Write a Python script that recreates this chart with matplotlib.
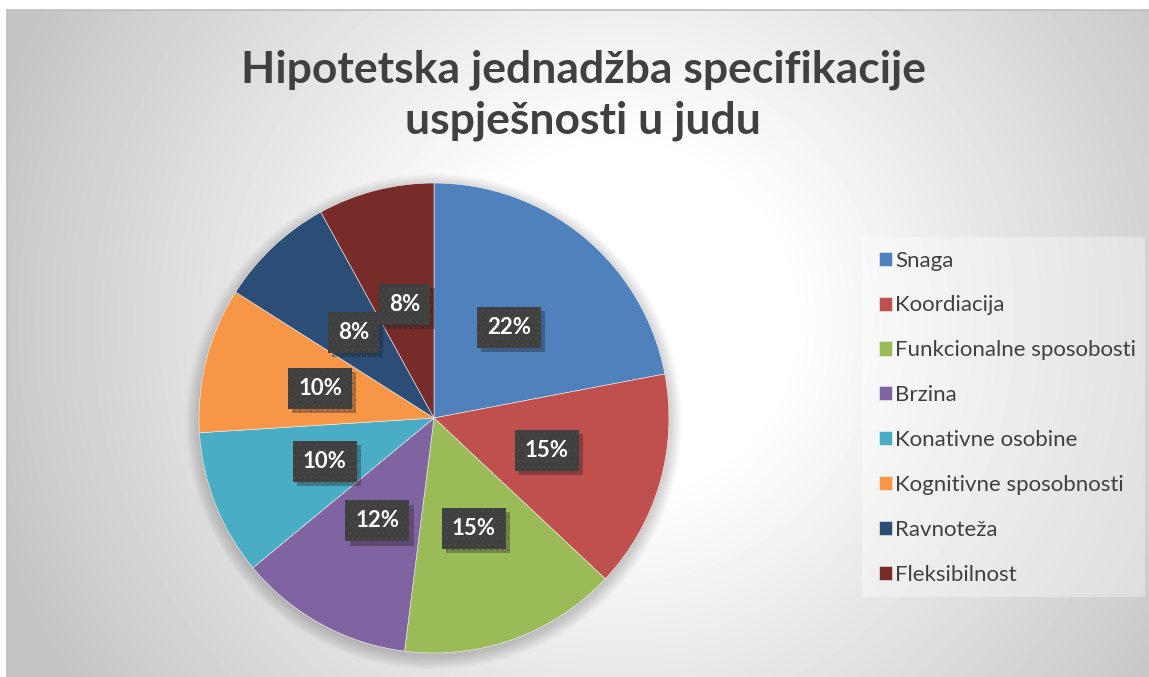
import numpy as np
import matplotlib
matplotlib.use('Agg')
import matplotlib.pyplot as plt
import matplotlib.patheffects as pe
from matplotlib.patches import Circle, Rectangle

#data
categories = ['Snaga', 'Koordiacija', 'Funkcionalne sposobosti', 'Brzina',
              'Konativne osobine', 'Kognitivne sposobnosti', 'Ravnoteža', 'Fleksibilnost']
values = [22, 15, 15, 12, 10, 10, 8, 8]
colors = ['#4F81BD', '#C0504D', '#9BBB59', '#8064A2',
          '#4BACC6', '#F79646', '#2C4D75', '#772C2A']
title = 'Hipotetska jednadžba specifikacije\nuspješnosti u judu'

W, H = 1149, 677
plt.rcParams['font.family'] = ['Lato', 'DejaVu Sans']
plt.rcParams['hatch.linewidth'] = 0.3
fig = plt.figure(figsize=(W / 100, H / 100), dpi=100)
fig.patch.set_facecolor('white')

#radial gradient background of the chart area
x0, y0 = 7, 10
bg = fig.add_axes([x0 / W, 0, 1 - x0 / W, (H - y0) / H])
yy, xx = np.mgrid[y0:H, x0:W]
d = np.hypot(xx - 620, yy - 320)
shade = 1 - 0.23 * np.clip((d - 170) / (660 - 170), 0, 1)
bg.imshow(shade, cmap='gray', vmin=0, vmax=1, aspect='auto', interpolation='bilinear')
bg.set_axis_off()
fig.add_artist(plt.Line2D([x0 / W, x0 / W], [0, (H - y0) / H], color='#bdbdbd', lw=1.2))
fig.add_artist(plt.Line2D([x0 / W, 1], [(H - y0) / H, (H - y0) / H], color='#bdbdbd', lw=1.2))

#pie axes
cx, cy, R = 434, 418, 235
ax = fig.add_axes([(cx - R) / W, (H - cy - R) / H, 2 * R / W, 2 * R / H])

#soft shadow under the pie
for i in range(10):
    ax.add_patch(Circle((0.0, -0.015), 1.0 + i * 0.006, color='black', alpha=0.018,
                        lw=0, zorder=0, clip_on=False))

wedges, texts, autotexts = ax.pie(values, colors=colors, startangle=90, counterclock=False,
                                  radius=1, autopct='%1.0f%%', pctdistance=0.5,
                                  wedgeprops=dict(linewidth=0.4, edgecolor='#f4f4f4'),
                                  textprops=dict(color='white', fontsize=16, fontweight='bold'))
ax.set_xlim(-1, 1)
ax.set_ylim(-1, 1)
ax.set_axis_off()
for w in wedges:
    w.set_zorder(2)
for t in autotexts:
    t.set_zorder(5)
    t.set_bbox(dict(boxstyle='square,pad=0.45', facecolor='#404040', edgecolor='#525252',
                    linewidth=0, hatch='...'))
    t.get_bbox_patch().set_path_effects([pe.SimplePatchShadow(offset=(3, -3), alpha=0.3),
                                         pe.Normal()])

#title
fig.text(583 / W, 1 - 95 / H, title, ha='center', va='center', fontsize=32,
         fontweight='bold', color='#404040', linespacing=1.32)

#legend
leg_box = Rectangle((862 / W, 1 - 597 / H), (1145 - 862) / W, (597 - 237) / H,
                    transform=fig.transFigure, facecolor='white', alpha=0.35, lw=0)
fig.add_artist(leg_box)
leg = fig.legend(wedges, categories, loc='upper left', bbox_to_anchor=(863 / W, 1 - 235 / H),
                 frameon=False, fontsize=16, labelspacing=1.12, handlelength=0.6,
                 handleheight=0.6, handletextpad=0.15, borderpad=0.2)
for t in leg.get_texts():
    t.set_color('#404040')

plt.savefig('out.png', dpi=100)
plt.close()
